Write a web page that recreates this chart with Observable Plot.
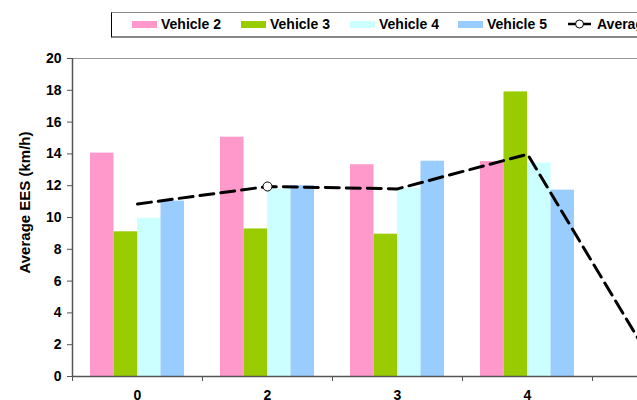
<!DOCTYPE html>
<html>
<head>
<meta charset="utf-8">
<script src="https://cdn.jsdelivr.net/npm/d3@7"></script>
<script src="https://cdn.jsdelivr.net/npm/@observablehq/plot@0.6"></script>
<style>
  body { margin: 0; background: #fff; font-family: "Liberation Sans", Arial, sans-serif; }
  #wrap { width: 637px; height: 400px; overflow: hidden; position: relative; }
  #legend { height: 40px; position: relative; }
  #legend .box { position: absolute; left: 111px; top: 12px; width: 620px; height: 23px;
    border-left: 1px solid #000; border-top: 1px solid #888; border-bottom: 2px solid #888;
    font-weight: bold; font-size: 14px; color: #000; white-space: nowrap; }
  .item { display: flex; align-items: center; position: absolute; top: 3px; }
  .sw { width: 25px; height: 7px; margin-right: 4px; }
  #chart svg { max-width: none !important; width: 730px !important; height: 360px !important; }
  svg text { font-family: "Liberation Sans", Arial, sans-serif; }
</style>
</head>
<body>
<div id="wrap">
  <div id="legend"><div class="box" id="lbox"></div></div>
  <div id="chart"></div>
</div>
<script>
const categories = ["0", "2", "3", "4", "5"];
const vehicles = ["Vehicle 2", "Vehicle 3", "Vehicle 4", "Vehicle 5"];
const colors = ["#FF99CC", "#99CC00", "#CCFFFF", "#99CCFF"];
const vehicle2 = [14.05, 15.05, 13.32, 13.52, 0];
const vehicle3 = [9.1, 9.28, 8.95, 17.9, 0];
const vehicle4 = [9.95, 11.78, 11.84, 13.42, 0];
const vehicle5 = [11.03, 12.0, 13.54, 11.72, 0];
const average = [10.85, 11.95, 11.8, 13.98, 0.35];
const markerShown = [false, true, false, false, false];
const yTicks = [0, 2, 4, 6, 8, 10, 12, 14, 16, 18, 20];

const series = [vehicle2, vehicle3, vehicle4, vehicle5];
const bandPx = 130, barPx = 23.5, groupPad = (bandPx - 4 * barPx) / 2;
const bars = [];
series.forEach((vals, vi) => vals.forEach((v, ci) => {
  if (v > 0) {
    const x1 = ci - 0.5 + (groupPad + vi * barPx) / bandPx;
    bars.push({cat: categories[ci], vehicle: vehicles[vi], value: v, x1, x2: x1 + barPx / bandPx});
  }
}));
const avg = average.map((v, ci) => ({ci, value: v, marker: markerShown[ci]}));
const idx = categories.map((c, i) => i);

// Legend
const lbox = document.getElementById("lbox");
const lpos = [20, 129, 238, 346, 455];
vehicles.forEach((v, i) => {
  const d = document.createElement("div");
  d.className = "item"; d.style.left = lpos[i] + "px";
  d.innerHTML = `<div class="sw" style="background:${colors[i]}"></div><span>${v}</span>`;
  lbox.appendChild(d);
});
{
  const d = document.createElement("div");
  d.className = "item"; d.style.left = lpos[4] + "px";
  d.innerHTML = `<svg width="26" height="12" style="margin-right:4px"><line x1="1" x2="24" y1="6" y2="6" stroke="#000" stroke-width="2.5"/><circle cx="12.5" cy="6" r="4" fill="#fff" stroke="#000" stroke-width="1"/></svg><span>Average</span>`;
  lbox.appendChild(d);
}

const chart = Plot.plot({
  width: 730,
  height: 360,
  marginLeft: 72,
  marginRight: 8,
  marginTop: 18,
  marginBottom: 24,
  style: {maxWidth: "none", overflow: "visible"},
  x: {type: "linear", domain: [-0.5, categories.length - 0.5], axis: null},
  y: {domain: [0, 20], axis: null},
  color: {domain: vehicles, range: colors},
  marks: [
    Plot.ruleY([20], {stroke: "#999", strokeWidth: 1}),
    Plot.rectY(bars, {x1: "x1", x2: "x2", y: "value", fill: "vehicle"}),
    Plot.line(avg, {x: "ci", y: "value", stroke: "#000", strokeWidth: 3, strokeDasharray: "14,7"}),
    Plot.dot(avg.filter(d => d.marker), {x: "ci", y: "value", r: 4.5, fill: "#fff", stroke: "#000", strokeWidth: 1}),
    Plot.ruleX([-0.5], {stroke: "#555", strokeWidth: 1.5}),
    Plot.ruleY([0], {stroke: "#555", strokeWidth: 1.5}),
    Plot.axisY({ticks: yTicks, tickSize: 5, tickPadding: 6, stroke: "#555", fontSize: 14, fontWeight: "bold", fill: "#000", label: null}),
    Plot.axisX({ticks: idx.map(i => i - 0.5).concat([categories.length - 0.5]), tickSize: 5, tickFormat: () => "", stroke: "#555", label: null}),
    Plot.axisX({ticks: idx, tickSize: 0, tickPadding: 14, tickFormat: i => categories[i], fontSize: 14, fontWeight: "bold", fill: "#000", label: null}),
    Plot.text(["Average EES (km/h)"], {frameAnchor: "left", textAnchor: "middle", dx: -47, dy: -15, rotate: -90, fontSize: 15, fontWeight: "bold", fill: "#000"})
  ]
});
document.getElementById("chart").appendChild(chart);
</script>
</body>
</html>
